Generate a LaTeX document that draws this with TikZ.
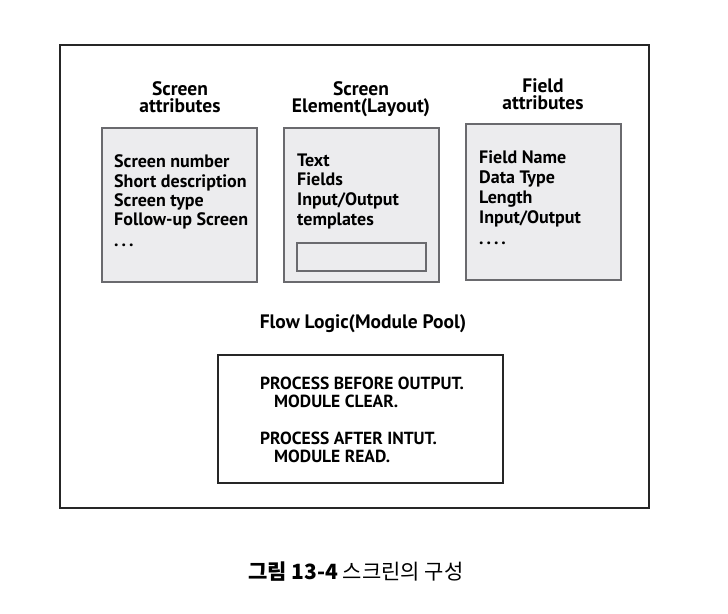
\documentclass[tikz,border=0pt]{standalone}
\usepackage{fontspec}
\setmainfont{PT Sans}
\newfontfamily\cjk{Noto Sans CJK KR}
\definecolor{boxfill}{HTML}{ECECEE}
\definecolor{boxline}{HTML}{6A6A6E}
\begin{document}
\begin{tikzpicture}[x=1pt,y=-1pt,
  attrbox/.style={draw=boxline,line width=1.6pt,fill=boxfill},
  title/.style={font=\bfseries\fontsize{19.5}{17}\selectfont,align=center,anchor=north,inner sep=0pt},
  body/.style={font=\bfseries\fontsize{18}{20}\selectfont,anchor=base west,inner sep=0pt},
  code/.style={font=\bfseries\fontsize{17.5}{17}\selectfont,anchor=base west,inner sep=0pt}]
\useasboundingbox (0,0) rectangle (728,613);
% outer frame
\draw[line width=1.4pt,draw=black!85] (60,45) rectangle (649,508);
% titles
\node[title] (t1) at (180,81) {Screen\\attributes};
\node[title] (t2) at (361,81) {Screen\\Element(Layout)};
\node[title] (t3) at (543,78) {Field\\attributes};
% boxes
\draw[attrbox] (102,128) rectangle (257,282);
\draw[attrbox] (284,128) rectangle (439,282);
\draw[attrbox] (297,243) rectangle (426,271);
\draw[attrbox] (466,124) rectangle (621,280);
% box 1
\node[body] (b11) at (114,167) {Screen number};
\node[body] (b12) at (114,187) {Short description};
\node[body] (b13) at (114,206) {Screen type};
\node[body] (b14) at (114,225) {Follow-up Screen};
\node[body] (b15) at (114,246) {.\,.\,.};
% box 2
\node[body] (b21) at (297,166) {Text};
\node[body] (b22) at (297,185) {Fields};
\node[body] (b23) at (297,205) {Input/Output};
\node[body] (b24) at (297,225) {templates};
% box 3
\node[body] (b31) at (479,163) {Field Name};
\node[body] (b32) at (479,183) {Data Type};
\node[body] (b33) at (479,203) {Length};
\node[body] (b34) at (479,223) {Input/Output};
\node[body] (b35) at (479,244) {.\,.\,.\,.};
% flow logic
\node[title,anchor=base] (fl) at (363,328) {Flow Logic(Module Pool)};
\draw[line width=1.4pt,draw=black!85] (218,355) rectangle (503,483);
\node[code] (p1) at (260,389) {PROCESS BEFORE OUTPUT.};
\node[code] (p2) at (274,407) {MODULE CLEAR.};
\node[code] (p3) at (260,444) {PROCESS AFTER INTUT.};
\node[code] (p4) at (274,462) {MODULE READ.};
% caption
\node[inner sep=0pt,font=\cjk\fontsize{21}{21}\selectfont] (cap) at (356,572) {\textbf{그림 13-4} 스크린의 구성};
\end{tikzpicture}
\end{document}
